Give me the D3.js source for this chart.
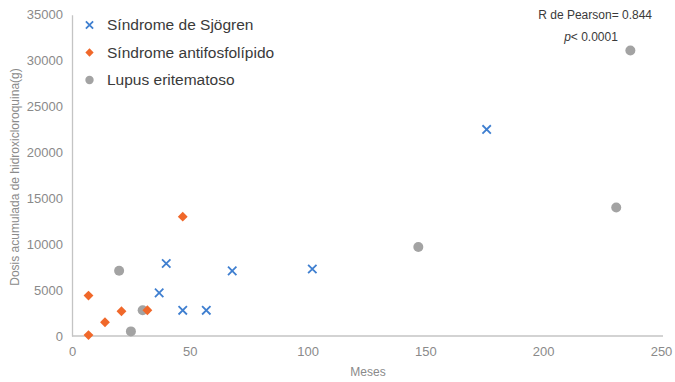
<!DOCTYPE html>
<html>
<head>
<meta charset="utf-8">
<script src="https://cdn.jsdelivr.net/npm/d3@7"></script>
<style>
  html, body { margin: 0; padding: 0; background: #fff; }
  svg { display: block; font-family: "Liberation Sans", Arial, sans-serif; }
</style>
</head>
<body>
<svg id="chart" width="675" height="382"></svg>
<script>
// Meses de tratamiento vs dosis acumulada (g), por diagnóstico
const sjogrenMeses = [176, 40, 37, 47, 57, 68, 102];
const sjogrenDosis = [22500, 7900, 4700, 2800, 2800, 7100, 7300];

const antifosfoMeses = [47, 7, 21, 32, 14, 7];
const antifosfoDosis = [13000, 4400, 2700, 2800, 1500, 100];

const lupusMeses = [20, 30, 25, 147, 231, 237];
const lupusDosis = [7100, 2800, 500, 9700, 14000, 31100];

const xTicks = [0, 50, 100, 150, 200, 250];
const yTicks = [0, 5000, 10000, 15000, 20000, 25000, 30000, 35000];

const seriesNames = ["Síndrome de Sjögren", "Síndrome antifosfolípido", "Lupus eritematoso"];
const seriesColors = ["#3f7fd0", "#f0682a", "#a3a3a3"];

const svg = d3.select("#chart");

const x = d3.scaleLinear().domain([0, 250]).range([72, 661]);
const y = d3.scaleLinear().domain([0, 35000]).range([336, 14.7]);

const axisColor = "#c4c4c4";
const tickColor = "#8a8a8a";

// Ejes
const xAxis = svg.append("g")
  .attr("transform", `translate(0,${y(0)})`)
  .call(d3.axisBottom(x).tickValues(xTicks).tickSize(0).tickPadding(11));
xAxis.select(".domain").attr("stroke", axisColor).attr("stroke-width", 1.3)
  .attr("d", `M${x(0)},0H663`);
xAxis.selectAll("text").attr("fill", tickColor).attr("font-size", 13)
  .attr("font-family", "Liberation Sans, Arial, sans-serif");

const yAxis = svg.append("g")
  .attr("transform", `translate(${x(0)},0)`)
  .call(d3.axisLeft(y).tickValues(yTicks).tickSize(0).tickPadding(9).tickFormat(d3.format("d")));
yAxis.select(".domain").attr("stroke", axisColor).attr("stroke-width", 1.3);
yAxis.selectAll("text").attr("fill", tickColor).attr("font-size", 13)
  .attr("font-family", "Liberation Sans, Arial, sans-serif");

// Títulos de ejes
svg.append("text")
  .attr("x", 368).attr("y", 376)
  .attr("text-anchor", "middle")
  .attr("fill", tickColor).attr("font-size", 12)
  .text("Meses");

svg.append("text")
  .attr("transform", `translate(19,177) rotate(-90)`)
  .attr("text-anchor", "middle")
  .attr("fill", tickColor).attr("font-size", 12)
  .text("Dosis acumulada de hidroxicloroquina(g)");

// Formas de los marcadores
function drawCross(g, cx, cy, color, s = 4.2) {
  g.append("path")
    .attr("d", `M${cx - s},${cy - s}L${cx + s},${cy + s}M${cx - s},${cy + s}L${cx + s},${cy - s}`)
    .attr("stroke", color).attr("stroke-width", 1.8).attr("fill", "none");
}
function drawDiamond(g, cx, cy, color, size = 62) {
  g.append("path")
    .attr("d", d3.symbol().type(d3.symbolDiamond2).size(size)())
    .attr("transform", `translate(${cx},${cy})`)
    .attr("fill", color);
}
function drawCircle(g, cx, cy, color, r = 5) {
  g.append("circle").attr("cx", cx).attr("cy", cy).attr("r", r).attr("fill", color);
}

const marks = svg.append("g");
lupusMeses.forEach((m, i) => drawCircle(marks, x(m), y(lupusDosis[i]), seriesColors[2]));
sjogrenMeses.forEach((m, i) => drawCross(marks, x(m), y(sjogrenDosis[i]), seriesColors[0]));
antifosfoMeses.forEach((m, i) => drawDiamond(marks, x(m), y(antifosfoDosis[i]), seriesColors[1]));

// Leyenda (marcadores algo más pequeños)
const legendDrawers = [
  (g, cx, cy, c) => drawCross(g, cx, cy, c, 3.6),
  (g, cx, cy, c) => drawDiamond(g, cx, cy, c, 44),
  (g, cx, cy, c) => drawCircle(g, cx, cy, c, 4.2)
];
const legend = svg.append("g");
seriesNames.forEach((name, i) => {
  const ly = 25 + i * 27.5;
  legendDrawers[i](legend, 89.5, ly, seriesColors[i]);
  legend.append("text")
    .attr("x", 107).attr("y", ly).attr("dy", "0.35em")
    .attr("fill", "#3a3a3a").attr("font-size", 15.5)
    .text(name);
});

// Estadístico de correlación
svg.append("text")
  .attr("x", 652).attr("y", 15).attr("dy", "0.35em")
  .attr("text-anchor", "end")
  .attr("fill", "#3a3a3a").attr("font-size", 12)
  .text("R de Pearson= 0.844");
const pText = svg.append("text")
  .attr("x", 591).attr("y", 37).attr("dy", "0.35em")
  .attr("text-anchor", "middle")
  .attr("fill", "#3a3a3a").attr("font-size", 12);
pText.append("tspan").attr("font-style", "italic").text("p");
pText.append("tspan").text("< 0.0001");
</script>
</body>
</html>
